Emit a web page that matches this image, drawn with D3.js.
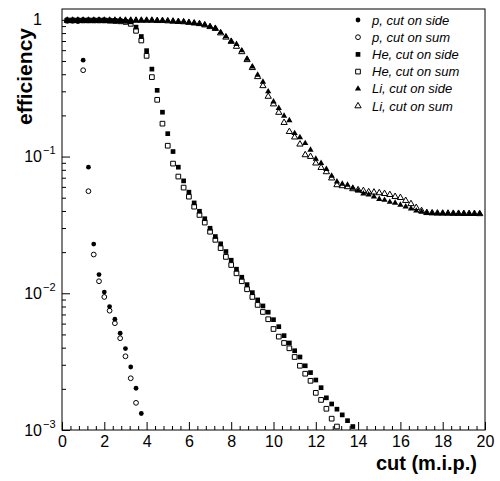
<!DOCTYPE html>
<html><head><meta charset="utf-8">
<script src="https://cdn.jsdelivr.net/npm/d3@7"></script>
<style>
body{margin:0;background:#fff}
text{font-family:"Liberation Sans",Arial,Helvetica,sans-serif;fill:#000}
</style>
</head><body>
<svg id="c" width="500" height="481"></svg>
<script>
// ---- data ----
const cuts = [0.25,0.5,0.75,1,1.25,1.5,1.75,2,2.25,2.5,2.75,3,3.25,3.5,3.75,4,4.25,4.5,4.75,5,
  5.25,5.5,5.75,6,6.25,6.5,6.75,7,7.25,7.5,7.75,8,8.25,8.5,8.75,9,9.25,9.5,9.75,10,
  10.25,10.5,10.75,11,11.25,11.5,11.75,12,12.25,12.5,12.75,13,13.25,13.5,13.75,14,14.25,14.5,14.75,15,
  15.25,15.5,15.75,16,16.25,16.5,16.75,17,17.25,17.5,17.75,18,18.25,18.5,18.75,19,19.25,19.5,19.75];

const pSide = [0.985,0.985,0.98,0.507,0.0836,0.0229,0.0137,0.0102,0.0080,0.00646,0.0051,0.00394,0.00289,0.00202,0.00132];
const pSum  = [0.985,0.985,0.98,0.428,0.0558,0.0192,0.01225,0.0094,0.00746,0.00604,0.00469,0.00346,0.00239,0.00158];

const heSide = [0.99,0.99,0.99,0.99,0.99,0.99,0.99,0.99,0.985,0.985,0.98,0.975,
  0.967,0.884,0.755,0.595,0.436,0.305,0.211,0.147,0.1088,0.0836,
  0.0664,0.0549,0.0458,0.0398,0.0351,0.0299,0.0260,0.0230,0.0202,0.01745,
  0.0150,0.0131,0.01157,0.01011,0.00894,0.00808,0.00727,0.00641,0.00570,0.00490,
  0.00433,0.00380,0.00342,0.00295,0.00263,0.00232,0.00204,0.00172,0.00155,0.00142,
  0.00129,0.00117,0.00106];
const heSum = [0.99,0.99,0.99,0.99,0.99,0.99,0.99,0.99,0.985,0.98,0.975,0.965,
  0.935,0.831,0.706,0.545,0.381,0.260,0.174,0.120,0.0888,0.0714,
  0.0593,0.0509,0.0430,0.0374,0.0329,0.0282,0.0246,0.0214,0.01845,0.0161,
  0.0140,0.01225,0.01070,0.00940,0.00822,0.00730,0.00646,0.00548,0.00482,0.00433,
  0.00396,0.00342,0.00295,0.00258,0.00229,0.00187,0.00166,0.00143,0.00121,0.00106];

const liSide = [0.99,0.99,0.99,0.99,0.99,0.99,0.99,0.99,0.99,0.99,0.99,0.99,0.99,0.99,0.99,0.99,
  0.99,0.985,0.985,0.98,0.975,0.97,0.965,0.955,0.945,0.935,
  0.919,0.893,0.870,0.807,0.755,0.694,0.664,0.596,0.518,0.455,
  0.396,0.352,0.299,0.252,0.226,0.198,0.184,0.148,0.138,0.125,
  0.112,0.0962,0.0894,0.0808,0.0722,0.0656,0.0631,0.062,0.059,0.0562,
  0.0535,0.0526,0.0509,0.0488,0.0481,0.0465,0.0458,0.0443,0.0430,0.0416,
  0.0401,0.0394,0.0387,0.0385,0.0384,0.0385,0.0383,0.0384,0.0382,0.0383,
  0.0382,0.0381,0.0382];
const liSum = [0.99,0.99,0.99,0.99,0.99,0.99,0.99,0.99,0.99,0.99,0.99,0.99,0.99,0.99,0.99,0.99,
  0.99,0.985,0.985,0.98,0.975,0.97,0.965,0.955,0.945,0.935,
  0.915,0.889,0.862,0.80,0.745,0.694,0.638,0.583,0.51,0.446,
  0.383,0.329,0.275,0.242,0.210,0.177,0.152,0.1386,0.123,0.1028,
  0.0999,0.0894,0.0830,0.0772,0.0695,0.0620,0.061,0.060,0.058,0.0570,
  0.0562,0.0551,0.0548,0.0542,0.0535,0.0526,0.0509,0.0500,0.0476,0.0451,
  0.0423,0.0401,0.0388,0.0386,0.0385,0.0384,0.0384,0.0383,0.0383,0.0382,
  0.0382,0.0382,0.0381];

const legendLabels = ["p, cut on side","p, cut on sum","He, cut on side","He, cut on sum","Li, cut on side","Li, cut on sum"];
const xTickValues = [0,2,4,6,8,10,12,14,16,18,20];
const yTickValues = [1,0.1,0.01,0.001];
const yTickExps = [null,"\u22121","\u22122","\u22123"];
const xTitle = "cut (m.i.p.)";
const yTitle = "efficiency";

// ---- layout ----
const L = 62, R = 485, T = 9, B = 430;
const svg = d3.select("#c");
const x = d3.scaleLinear().domain([0,20]).range([L,R]);
const y = d3.scaleLog().domain([0.001,1.2]).range([B,T]);

// minor ticks
const xMinor = d3.range(0, 20.0001, 0.4).map(v => +v.toFixed(2)).filter(v => !xTickValues.includes(v));
const yMinor = [];
[0.001,0.01,0.1].forEach(d => { for (let k=2;k<=9;k++) yMinor.push(+(d*k).toPrecision(3)); });

const gx = svg.append("g").attr("transform",`translate(0,${B})`);
gx.append("g").call(d3.axisBottom(x).tickValues(xMinor).tickSize(-4).tickFormat(""))
  .call(g => g.select(".domain").remove());
gx.append("g").call(d3.axisBottom(x).tickValues(xTickValues).tickSize(-8).tickPadding(6).tickFormat(d3.format("d")))
  .call(g => g.select(".domain").remove())
  .call(g => g.selectAll("text").attr("font-size",16).attr("font-family","Liberation Sans, Arial, sans-serif"));
svg.selectAll(".tick line").attr("stroke","#000");

const gy = svg.append("g").attr("transform",`translate(${L},0)`);
gy.append("g").call(d3.axisLeft(y).tickValues(yMinor).tickSize(-4).tickFormat(""))
  .call(g => g.select(".domain").remove());
const gyMaj = gy.append("g").call(d3.axisLeft(y).tickValues(yTickValues).tickSize(-8).tickFormat(""))
  .call(g => g.select(".domain").remove());
gyMaj.selectAll(".tick").each(function(d,i){
  const g = d3.select(this);
  const e = yTickExps[i];
  g.append("text").attr("x",-20).attr("y",5).attr("text-anchor","end")
    .attr("font-size",16).text(e ? "10" : "1");
  if (e) g.append("text").attr("x",-19).attr("y",-3).attr("text-anchor","start")
    .attr("font-size",11).text(e);
});
svg.selectAll(".tick line").attr("stroke","#000");

// frame
svg.append("rect").attr("x",L).attr("y",T).attr("width",R-L).attr("height",B-T)
  .attr("fill","none").attr("stroke","#000").attr("stroke-width",1);

// titles
svg.append("text").attr("x",477).attr("y",470).attr("text-anchor","end")
  .attr("font-size",20).attr("font-weight","bold").text(xTitle);
svg.append("text").attr("transform","translate(32,28) rotate(-90)").attr("text-anchor","end")
  .attr("font-size",21).attr("font-weight","bold").text(yTitle);

// series
const series = [
  {vals:pSide, sym:d3.symbolCircle, size:18, filled:true},
  {vals:pSum, sym:d3.symbolCircle, size:18, filled:false},
  {vals:heSide, sym:d3.symbolSquare, size:22, filled:true},
  {vals:heSum, sym:d3.symbolSquare, size:22, filled:false},
  {vals:liSide, sym:d3.symbolTriangle, size:17, filled:true},
  {vals:liSum, sym:d3.symbolTriangle, size:17, filled:false}
];
const plot = svg.append("g");
series.forEach(s => {
  const pts = s.vals.map((v,i) => ({x:cuts[i], v}));
  plot.append("g").selectAll("path").data(pts).join("path")
    .attr("transform", d => `translate(${x(d.x)},${y(d.v)})`)
    .attr("d", d3.symbol().type(s.sym).size(s.size))
    .attr("fill", s.filled ? "#000" : "none")
    .attr("stroke", "#000").attr("stroke-width", s.filled ? 0 : 1);
});

// legend
const lg = svg.append("g");
legendLabels.forEach((lab,i) => {
  const s = series[i];
  const cy = 20 + i*17.2;
  lg.append("path").attr("transform",`translate(358,${cy})`)
    .attr("d", d3.symbol().type(s.sym).size(s.size))
    .attr("fill", s.filled ? "#000" : "none")
    .attr("stroke","#000").attr("stroke-width", s.filled ? 0 : 1);
  lg.append("text").attr("x",372).attr("y",cy+4.5).attr("font-size",13)
    .attr("font-style","italic").text(lab);
});
</script>
</body></html>
